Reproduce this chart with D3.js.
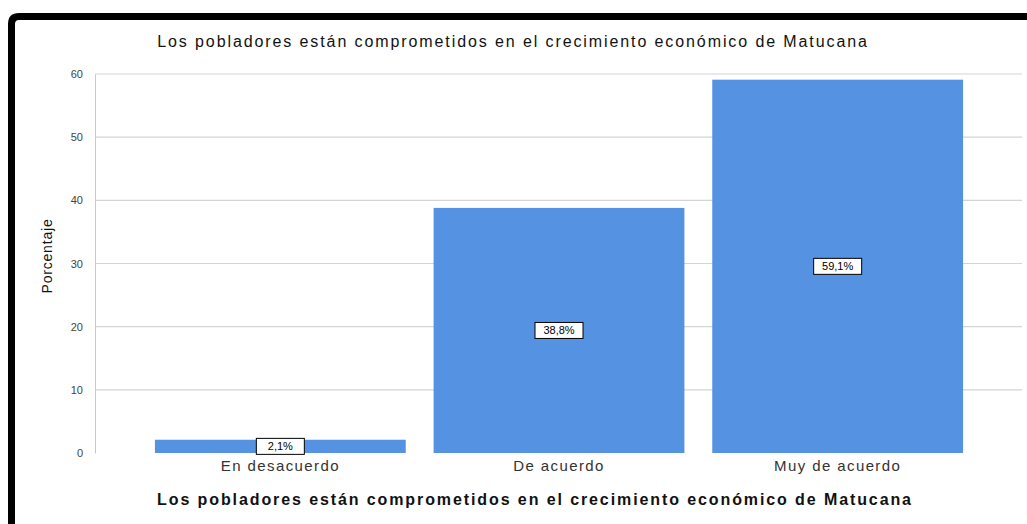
<!DOCTYPE html>
<html><head><meta charset="utf-8">
<script src="https://cdn.jsdelivr.net/npm/d3@7"></script>
<style>body{margin:0;background:#fff}svg{display:block}</style>
</head><body><svg width="1027" height="524"></svg>
<script>
const categories = ["En desacuerdo", "De acuerdo", "Muy de acuerdo"];
const values = [2.1, 38.8, 59.1];
const valueLabels = ["2,1%", "38,8%", "59,1%"];
const yTicks = [0, 10, 20, 30, 40, 50, 60];
const chartTitle = "Los pobladores están comprometidos en el crecimiento económico de Matucana";
const yTitle = "Porcentaje";

const FONT = "Arial, Liberation Sans, sans-serif";
const svg = d3.select("svg");
// frame
svg.append("path").attr("d","M11.5,1000 L11.5,24 Q11.5,16.5 19,16.5 L1100,16.5")
  .attr("fill","none").attr("stroke","#000").attr("stroke-width",7);

const y = d3.scaleLinear().domain([0, 60]).range([453, 74]);
const x = d3.scaleBand().domain(categories).range([141, 977]).paddingInner(0.1).paddingOuter(0.05);

// grid
svg.append("g").selectAll("line").data(yTicks.filter(d=>d>0)).join("line")
  .attr("x1",95).attr("x2",1022).attr("y1",d=>y(d)).attr("y2",d=>y(d))
  .attr("stroke","#d4d4d4").attr("stroke-width",1.2);

// y axis
const ya = svg.append("g").attr("transform","translate(95,0)")
  .call(d3.axisLeft(y).tickValues(yTicks).tickSize(0).tickPadding(12));
ya.select(".domain").attr("stroke","#c8c8c8");
ya.selectAll("text").attr("font-family",FONT).attr("font-size",11).attr("fill","#444");

// bars
svg.append("g").selectAll("rect").data(values).join("rect")
  .attr("x",(d,i)=>x(categories[i])).attr("width",x.bandwidth())
  .attr("y",d=>y(d)).attr("height",d=>y(0)-y(d))
  .attr("fill","#5592e2");

// value labels
const lg = svg.append("g").selectAll("g").data(values).join("g")
  .attr("transform",(d,i)=>`translate(${x(categories[i])+x.bandwidth()/2},${(y(d)+y(0))/2})`);
lg.append("rect").attr("x",-24).attr("y",-8).attr("width",48).attr("height",16)
  .attr("fill","#fff").attr("stroke","#000").attr("stroke-width",1);
lg.append("text").text((d,i)=>valueLabels[i]).attr("text-anchor","middle").attr("dy","0.35em")
  .attr("font-family",FONT).attr("font-size",11).attr("fill","#000");

// x axis labels
const xa = svg.append("g").attr("transform","translate(0,453)")
  .call(d3.axisBottom(x).tickSize(0).tickPadding(7));
xa.select(".domain").remove();
xa.selectAll("text").attr("font-family",FONT).attr("font-size",15).attr("letter-spacing",1.4).attr("fill","#333");

// titles
svg.append("text").attr("x",513).attr("y",47).attr("text-anchor","middle")
  .attr("font-family",FONT).attr("font-size",16).attr("letter-spacing",1.9).attr("fill","#111").text(chartTitle);
svg.append("text").attr("x",535).attr("y",505).attr("text-anchor","middle")
  .attr("font-family",FONT).attr("font-size",16).attr("letter-spacing",1.9).attr("font-weight","bold").attr("fill","#111").text(chartTitle);
svg.append("text").attr("transform","translate(52,256) rotate(-90)").attr("text-anchor","middle")
  .attr("font-family",FONT).attr("font-size",14).attr("letter-spacing",0.8).attr("fill","#111").text(yTitle);
</script></body></html>
